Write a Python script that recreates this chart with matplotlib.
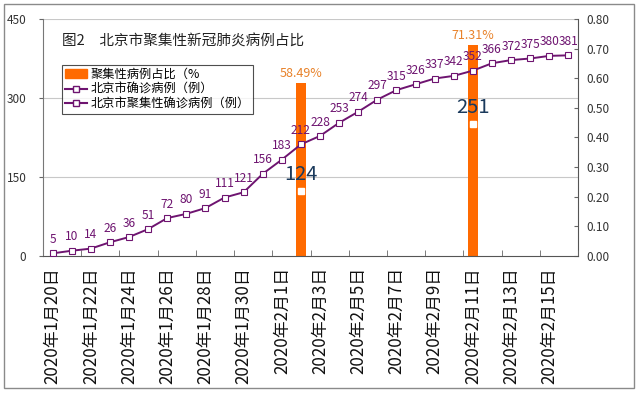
import matplotlib
matplotlib.use("Agg")
import matplotlib.pyplot as plt
import numpy as np
from matplotlib.lines import Line2D
from matplotlib.patches import Patch, Rectangle

plt.rcParams['font.family'] = ['Noto Sans CJK SC', 'DejaVu Sans']

dates = ["2020年1月20日", "2020年1月21日", "2020年1月22日", "2020年1月23日", "2020年1月24日",
         "2020年1月25日", "2020年1月26日", "2020年1月27日", "2020年1月28日", "2020年1月29日",
         "2020年1月30日", "2020年1月31日", "2020年2月1日", "2020年2月2日", "2020年2月3日",
         "2020年2月4日", "2020年2月5日", "2020年2月6日", "2020年2月7日", "2020年2月8日",
         "2020年2月9日", "2020年2月10日", "2020年2月11日", "2020年2月12日", "2020年2月13日",
         "2020年2月14日", "2020年2月15日", "2020年2月16日"]
confirmed = [5, 10, 14, 26, 36, 51, 72, 80, 91, 111, 121, 156, 183, 212, 228, 253, 274,
             297, 315, 326, 337, 342, 352, 366, 372, 375, 380, 381]
cluster_dates = ["2020年2月2日", "2020年2月11日"]
cluster_cases = [124, 251]
cluster_ratio = [0.5849, 0.7131]
ratio_labels = ["58.49%", "71.31%"]

left_ticks = [0, 150, 300, 450]
right_ticks = [0.0, 0.1, 0.2, 0.3, 0.4, 0.5, 0.6, 0.7, 0.8]

title = "图2　北京市聚集性新冠肺炎病例占比"
legend_labels = ["聚集性病例占比（%", "北京市确诊病例（例）", "北京市聚集性确诊病例（例）"]

purple = "#6E1470"
orange = "#FF6A00"
label_orange = "#E8822A"
blue = "#1B3A5C"

fig = plt.figure(figsize=(6.4, 3.93), dpi=100)
fig.patches.append(Rectangle((4/640, 5/393), 630/640, 384/393, transform=fig.transFigure,
                             fill=False, edgecolor="#8a8a8a", lw=1.0))

pos = [43/640, 1 - 256/393, (578-43)/640, (256-19)/393]
ax2 = fig.add_axes(pos)   # bars (behind)
ax = fig.add_axes(pos)    # lines (front)
ax.patch.set_visible(False)

x = np.arange(len(dates))
cx = [dates.index(d) for d in cluster_dates]

ymax1, ymax2 = 450, 0.8

# gridlines (drawn under bars)
for t in left_ticks[1:]:
    ax2.axhline(t * ymax2 / ymax1, color="#c8c8c8", lw=0.8, zorder=0)

ax2.bar(cx, cluster_ratio, width=0.5, color=orange, zorder=2)
for xi, v, lab in zip(cx, cluster_ratio, ratio_labels):
    ax2.annotate(lab, (xi, v), xytext=(0, 6.5), textcoords="offset points",
                 ha="center", va="center", color=label_orange, fontsize=9)

ax.plot(x, confirmed, color=purple, lw=1.4, marker="s", markersize=4,
        markerfacecolor="white", markeredgecolor=purple, markeredgewidth=0.8, zorder=3)
for xi, v in zip(x, confirmed):
    ax.annotate(str(v), (xi, v), xytext=(0, 10), textcoords="offset points",
                ha="center", va="center", color=purple, fontsize=8.6)

ax.plot(cx, cluster_cases, linestyle="none", marker="s", markersize=4,
        markerfacecolor="white", markeredgecolor="white", zorder=4)
for xi, v in zip(cx, cluster_cases):
    ax.annotate(str(v), (xi, v), xytext=(0, 11.5), textcoords="offset points",
                ha="center", va="center", color=blue, fontsize=14.5)

# axes styling
ax.set_yticks(left_ticks)
ax.tick_params(axis="y", direction="out", length=3, labelsize=8.5, labelcolor="#333333",
               color="#666666", pad=9)
ax2.yaxis.tick_right()
ax2.set_yticks(right_ticks)
ax2.set_yticklabels([f"{t:.2f}" for t in right_ticks])
ax2.tick_params(axis="y", direction="in", length=3, labelsize=8.5, labelcolor="#333333",
                color="#666666", pad=6)

ax.set_xticks(x[::2])
ax.set_xticklabels(dates[::2], rotation=90, fontsize=12.2, color="#111111")
ax.tick_params(axis="x", length=0, pad=8)
ax.set_xticks(np.arange(1.5, len(dates), 2), minor=True)
ax.tick_params(axis="x", which="minor", direction="in", length=4, color="#666666")
ax2.set_xticks([])

for a in (ax, ax2):
    a.set_xlim(-0.5, len(dates) - 0.5)
ax.set_ylim(0, ymax1)
ax2.set_ylim(0, ymax2)

for a in (ax, ax2):
    a.spines["top"].set_visible(False)
ax.spines["right"].set_visible(False)
ax.spines["left"].set_color("#777777")
ax.spines["bottom"].set_color("#555555")
ax2.spines["left"].set_visible(False)
ax2.spines["bottom"].set_visible(False)
ax2.spines["right"].set_color("#555555")

fig.text(62/640, 1 - 42/393, title, fontsize=10.5, color="#222222", va="center", ha="left")

handles = [Patch(facecolor=orange, edgecolor=orange),
           Line2D([], [], color=purple, lw=1.5, marker="s", markersize=4,
                  markerfacecolor="white", markeredgecolor=purple),
           Line2D([], [], color=purple, lw=1.5, marker="s", markersize=4,
                  markerfacecolor="white", markeredgecolor=purple)]
leg = ax.legend(handles, legend_labels, loc="upper left",
                bbox_to_anchor=((62-43)/535, (256-65)/237), fontsize=8.8,
                frameon=True, fancybox=False, borderpad=0.25, labelspacing=0.15,
                handlelength=1.8, handletextpad=0.3, borderaxespad=0)
leg.get_frame().set_edgecolor("#222222")
leg.get_frame().set_linewidth(0.8)

fig.savefig("out.png", dpi=100)
